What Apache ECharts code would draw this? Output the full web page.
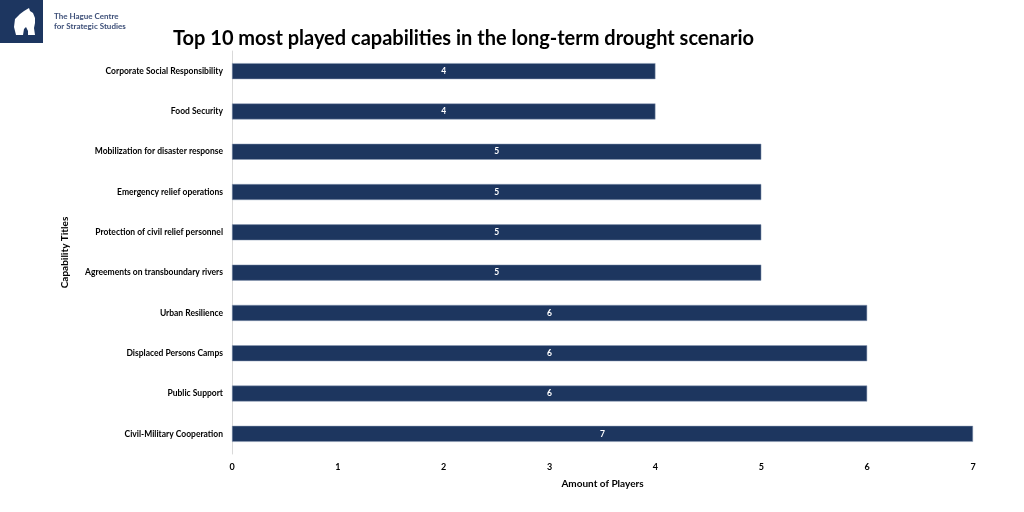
<!DOCTYPE html>
<html>
<head>
<meta charset="utf-8">
<script src="https://cdn.jsdelivr.net/npm/echarts@6/dist/echarts.min.js"></script>
<style>html,body{margin:0;padding:0;background:#fff;}#c{width:1024px;height:512px;}</style>
</head>
<body>
<div id="c"></div>
<script>
const categories = [
  'Corporate Social Responsibility',
  'Food Security',
  'Mobilization for disaster response',
  'Emergency relief operations',
  'Protection of civil relief personnel',
  'Agreements on transboundary rivers',
  'Urban Resilience',
  'Displaced Persons Camps',
  'Public Support',
  'Civil-Military Cooperation'
];
const players = [4, 4, 5, 5, 5, 5, 6, 6, 6, 7];
const xTicks = [0, 1, 2, 3, 4, 5, 6, 7];

const FONT = 'Lato, "Open Sans", sans-serif';
const chart = echarts.init(document.getElementById('c'));
chart.setOption({
  animation: false,
  backgroundColor: '#ffffff',
  title: {
    text: 'Top 10 most played capabilities in the long-term drought scenario',
    left: 168, top: 24,
    textStyle: { fontFamily: FONT, fontSize: 20, fontWeight: 'bold', color: '#000' }
  },
  graphic: [
    { type: 'rect', left: 0, top: 0, shape: { width: 43, height: 43 }, style: { fill: '#1d3660' } },
    { type: 'polygon', shape: { points: [[16,35],[14,27],[15,19],[20,14],[24,11],[29,8],[30,11],[33,13],[35,18],[35,23],[34,28],[35,35],[28,35],[28,31],[26,27],[24,29],[23,35]] },
      style: { fill: '#ffffff' } },
    { type: 'text', left: 54, top: 12, style: { text: 'The Hague Centre', font: 'bold 8px ' + FONT, fill: '#3d4f78' } },
    { type: 'text', left: 54, top: 22, style: { text: 'for Strategic Studies', font: 'bold 8px ' + FONT, fill: '#3d4f78' } }
  ],
  grid: { left: 232, right: 51, top: 51, bottom: 58, containLabel: false },
  xAxis: {
    type: 'value', min: 0, max: 7, interval: 1,
    name: 'Amount of Players', nameLocation: 'middle', nameGap: 25, nameMoveOverlap: false,
    nameTextStyle: { fontFamily: FONT, fontSize: 10, fontWeight: 'bold', color: '#000' },
    axisLine: { show: false }, axisTick: { show: false }, splitLine: { show: false },
    axisLabel: { fontFamily: FONT, fontSize: 9, fontWeight: 'bold', color: '#000', margin: 9,
      formatter: v => xTicks.includes(v) ? String(v) : '' }
  },
  yAxis: {
    type: 'category', data: categories, inverse: true,
    name: 'Capability Titles', nameLocation: 'middle', nameGap: 162, nameRotate: 90, nameMoveOverlap: false,
    nameTextStyle: { fontFamily: FONT, fontSize: 10, fontWeight: 'bold', color: '#000' },
    axisLine: { show: true, lineStyle: { color: '#d9d9d9', width: 1 } },
    axisTick: { show: false }, splitLine: { show: false },
    axisLabel: { fontFamily: FONT, fontSize: 8.5, fontWeight: 'bold', color: '#000', margin: 9 }
  },
  series: [{
    type: 'bar', data: players, barWidth: 16,
    itemStyle: { color: '#1d365f', borderColor: '#8b9bb4', borderWidth: 0.5 },
    label: { show: true, position: 'inside', color: '#fff', fontFamily: FONT, fontSize: 8.5, fontWeight: 'bold' }
  }]
});
</script>
</body>
</html>
